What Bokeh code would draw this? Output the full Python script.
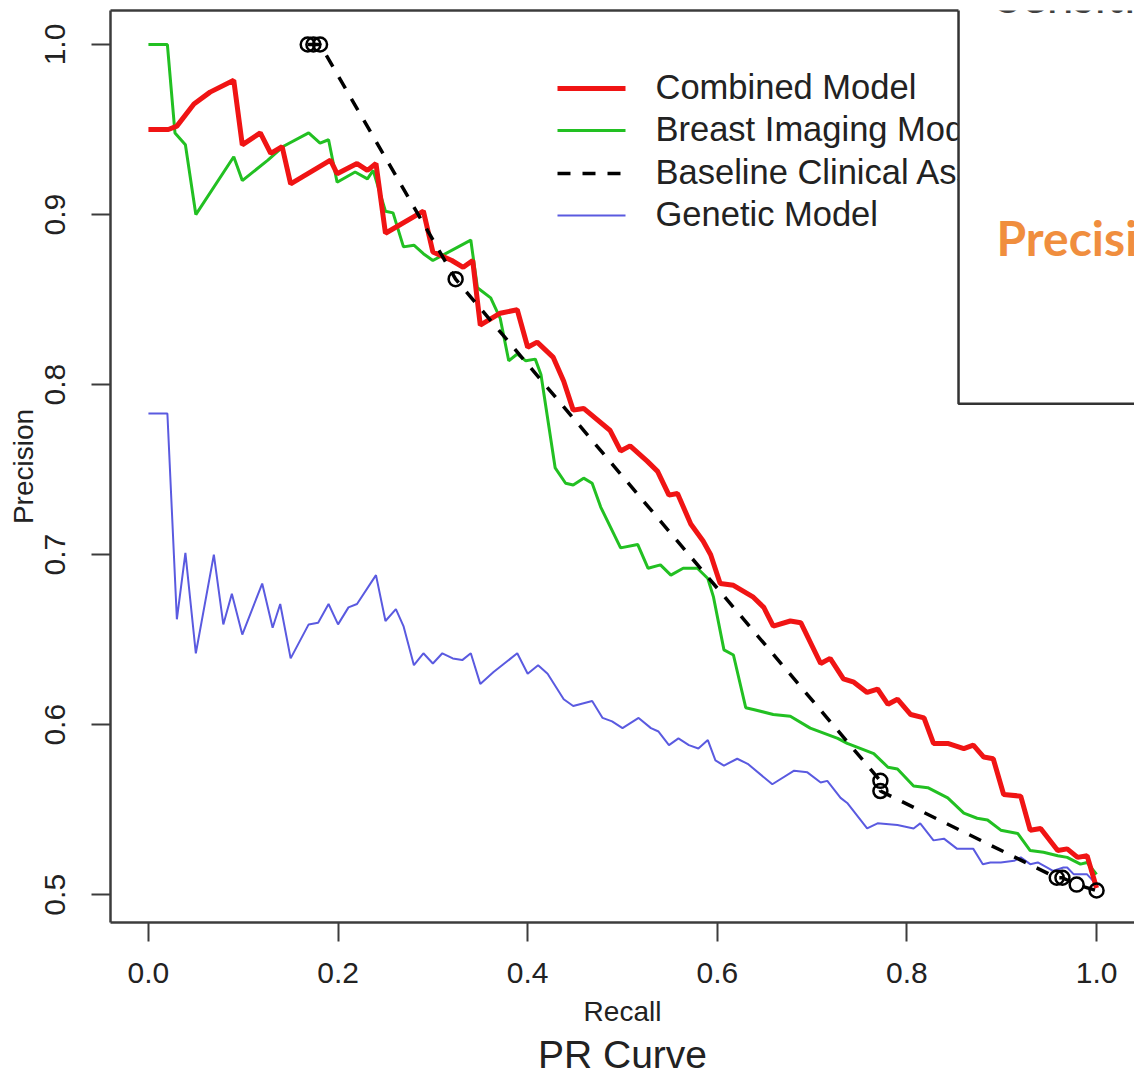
from bokeh.plotting import figure
from bokeh.models import (FixedTicker, PrintfTickFormatter, BoxAnnotation, Label, Range1d,
                          LinearAxis, Arrow)
from bokeh.embed import file_html
from bokeh.resources import INLINE

# ---------------- data ----------------
combined_recall = [0, .021, .03, .048, .065, .09, .099, .118, .129, .141, .15, .192, .199, .22, .231,
                   .24, .25, .29, .30, .32, .332, .342, .347, .35, .371, .389, .40, .41, .427, .438,
                   .448, .459, .487, .498, .508, .526, .537, .549, .558, .572, .585, .593, .603, .617,
                   .638, .649, .659, .677, .688, .709, .719, .733, .744, .758, .769, .78, .79, .804,
                   .818, .828, .843, .86, .87, .881, .891, .902, .92, .93, .941, .959, .969, .98, .99, 1.0]
combined_precision = [.95, .95, .952, .965, .972, .979, .941, .948, .936, .94, .918, .932, .924, .93, .926,
                      .93, .889, .902, .878, .873, .869, .873, .849, .835, .842, .844, .822, .825, .816, .802,
                      .785, .786, .773, .761, .764, .755, .749, .735, .736, .718, .708, .70, .683, .682,
                      .675, .669, .658, .661, .66, .636, .639, .627, .625, .619, .621, .612, .615, .606,
                      .604, .589, .589, .586, .588, .581, .58, .559, .558, .538, .539, .526, .527, .522, .523, .504]

imaging_recall = [0, .02, .028, .039, .05, .09, .099, .126, .142, .169, .181, .19, .199, .218, .231, .237,
                  .25, .258, .269, .28, .29, .30, .34, .347, .361, .371, .38, .389, .398, .408, .414, .429,
                  .44, .448, .459, .468, .477, .498, .516, .527, .54, .551, .564, .579, .59, .596, .607,
                  .617, .63, .638, .659, .677, .698, .727, .737, .765, .78, .79, .807, .822, .843, .86,
                  .874, .885, .899, .917, .93, .944, .959, .969, .983, .99, 1.0]
imaging_precision = [1.0, 1.0, .948, .941, .90, .934, .92, .932, .94, .948, .942, .944, .919, .925, .921, .926,
                     .902, .901, .881, .882, .877, .873, .885, .857, .851, .839, .814, .818, .814, .815, .806, .751,
                     .742, .741, .745, .742, .728, .704, .706, .692, .694, .688, .692, .692, .686, .675, .644,
                     .641, .61, .609, .606, .605, .598, .592, .589, .583, .575, .574, .564, .563, .557, .548,
                     .545, .544, .538, .536, .526, .525, .523, .522, .518, .519, .512]

baseline_recall = [.168, .174, .181, .324, .772, .772, .958, .964, .979, 1.0]
baseline_precision = [1.0, 1.0, 1.0, .862, .567, .561, .51, .51, .506, .5025]

genetic_recall = [0, .02, .03, .039, .05, .069, .079, .088, .099, .12, .131, .139, .15, .169, .179, .19, .2,
                  .211, .22, .24, .25, .261, .269, .28, .29, .30, .31, .321, .331, .34, .35, .364, .389, .40,
                  .411, .421, .438, .448, .468, .479, .489, .50, .517, .53, .538, .549, .559, .57, .58, .59,
                  .598, .607, .621, .632, .658, .681, .695, .709, .716, .73, .737, .758, .769, .79, .807,
                  .814, .828, .839, .853, .864, .87, .88, .888, .899, .913, .92, .93, .938, .948, .954, .965,
                  .969, .976, .99, 1.0]
genetic_precision = [.783, .783, .662, .701, .642, .70, .659, .677, .653, .683, .657, .671, .639, .659, .66, .671, .659,
                     .669, .671, .688, .661, .668, .658, .635, .642, .636, .642, .639, .638, .642, .624, .631, .642, .63,
                     .635, .63, .615, .611, .614, .604, .602, .598, .604, .598, .596, .588, .592, .588, .586, .591,
                     .579, .576, .58, .577, .565, .573, .572, .566, .567, .557, .554, .539, .542, .541, .539,
                     .542, .532, .533, .527, .527, .527, .518, .519, .519, .52, .522, .518, .519, .516, .514, .516,
                     .516, .512, .512, .506]

series_labels = ["Combined Model", "Breast Imaging Model", "Baseline Clinical Assessment", "Genetic Model"]
x_ticks = [0.0, 0.2, 0.4, 0.6, 0.8, 1.0]
y_ticks = [0.5, 0.6, 0.7, 0.8, 0.9, 1.0]

# ---------------- styles ----------------
FONT = "Liberation Sans"
TXT = "#222222"
FRAME = "#3c3c3c"
X0, X1 = -0.04, 1.04
BOX_LEFT, BOX_BOTTOM = 0.8544, 0.7888
styles = [dict(line_color="#f01414", line_width=5),
          dict(line_color="#22c022", line_width=3),
          dict(line_color="black", line_width=3.5, line_dash="13 12"),
          dict(line_color="#5a5ae0", line_width=2)]

p = figure(width=1134, height=1079, output_backend="svg", toolbar_location=None,
           x_range=Range1d(X0, X1), y_range=Range1d(0.4837, 1.02),
           min_border_left=110, min_border_right=0, min_border_top=10, min_border_bottom=157,
           title="PR Curve", title_location="below")
p.xgrid.visible = False
p.ygrid.visible = False
p.outline_line_color = None
p.background_fill_color = "white"
p.border_fill_color = "white"

p.title.align = "center"
p.title.text_font = FONT
p.title.text_font_size = "39px"
p.title.text_font_style = "normal"
p.title.text_color = TXT
p.title.standoff = 2

for ax in (p.xaxis[0], p.yaxis[0]):
    ax.axis_line_color = FRAME
    ax.axis_line_width = 2.5
    ax.major_tick_line_color = FRAME
    ax.major_tick_line_width = 2
    ax.major_tick_in = 0
    ax.major_tick_out = 19
    ax.minor_tick_line_color = None
    ax.major_label_text_font = FONT
    ax.major_label_text_font_size = "30px"
    ax.major_label_text_color = TXT
    ax.axis_label_text_font = FONT
    ax.axis_label_text_font_size = "28px"
    ax.axis_label_text_font_style = "normal"
    ax.axis_label_text_color = TXT
    ax.formatter = PrintfTickFormatter(format="%.1f")

p.xaxis[0].ticker = FixedTicker(ticks=x_ticks)
p.yaxis[0].ticker = FixedTicker(ticks=y_ticks)
p.xaxis[0].axis_label = "Recall"
p.yaxis[0].axis_label = "Precision"
p.xaxis[0].major_label_standoff = 21
p.xaxis[0].axis_label_standoff = 10
p.yaxis[0].major_label_orientation = "vertical"
p.yaxis[0].major_label_standoff = 26
p.yaxis[0].axis_label_standoff = 4

# top edge of the plot box (stops where the overlapping slide box begins)
top_axis = LinearAxis(ticker=FixedTicker(ticks=[]), major_label_text_font_size="0px",
                      axis_line_color=FRAME, axis_line_width=2.5, major_tick_line_color=None,
                      minor_tick_line_color=None, bounds=(X0, BOX_LEFT))
p.add_layout(top_axis, "above")

# ---------------- lines ----------------
p.line(genetic_recall, genetic_precision, **styles[3])
p.line(imaging_recall, imaging_precision, **styles[1])
p.line(combined_recall, combined_precision, **styles[0])
p.line(baseline_recall, baseline_precision, **styles[2])
p.scatter(baseline_recall, baseline_precision, marker="circle", size=14, fill_color=None,
          line_color="black", line_width=2.5)

# ---------------- legend (R style, no box; drawn before the slide box so it is covered) ----------------
row_y = [834, 792, 749, 707]          # screen px above the frame bottom
for lbl, st, yy in zip(series_labels, styles, row_y):
    p.add_layout(Arrow(end=None, x_start=447, y_start=yy, x_end=515, y_end=yy,
                       start_units="screen", end_units="screen", **st), "center")
    p.add_layout(Label(x=545, y=yy + 2, x_units="screen", y_units="screen", text=lbl,
                       text_font=FONT, text_font_size="34.5px", text_color=TXT,
                       text_baseline="middle"), "center")

# ---------------- overlapping slide box ----------------
box = BoxAnnotation(left=BOX_LEFT, right=1.3, bottom=BOX_BOTTOM, top=1.3,
                    fill_color="white", fill_alpha=1.0, line_color="#333333",
                    line_alpha=1.0, line_width=2.5)
p.add_layout(box, "center")
p.add_layout(Label(x=0.8935, y=1.0294, text="Sensitivity", text_font="Lato",
                   text_font_size="48px", text_color="#404040", text_baseline="middle"), "center")
p.add_layout(Label(x=0.8945, y=0.8865, text="Precision", text_font="Lato",
                   text_font_style="bold", text_font_size="48px", text_color="#f08e3e",
                   text_baseline="middle"), "center")

open("out.html", "w").write(file_html(p, INLINE))
